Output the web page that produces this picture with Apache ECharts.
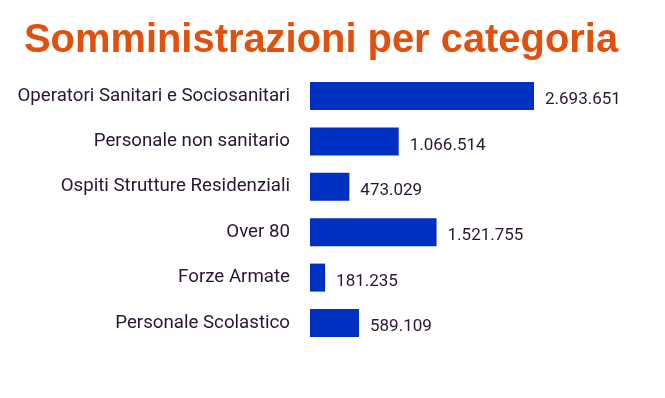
<!DOCTYPE html>
<html><head><meta charset="utf-8">
<script src="https://cdn.jsdelivr.net/npm/echarts@6/dist/echarts.min.js"></script>
<style>html,body{margin:0;padding:0;background:#fff}#c{width:665px;height:398px}</style>
</head><body><div id="c"></div>
<script>
const title = "Somministrazioni per categoria";
const categories = ["Operatori Sanitari e Sociosanitari","Personale non sanitario","Ospiti Strutture Residenziali","Over 80","Forze Armate","Personale Scolastico"];
const values = [2693651, 1066514, 473029, 1521755, 181235, 589109];

function fmt(v){ return String(v).replace(/\B(?=(\d{3})+(?!\d))/g, "."); }

const chart = echarts.init(document.getElementById('c'), null, {renderer:'canvas'});
chart.setOption({
  backgroundColor:'#ffffff',
  animation:false,
  title:{text:title,left:19,top:16,textStyle:{fontFamily:'Liberation Sans',fontWeight:'bold',fontSize:39.9,color:'#e0500f'}},
  grid:{left:310,top:73.3,width:249.5,height:272.4,containLabel:false},
  xAxis:{type:'value',min:0,max:3000000,show:false},
  yAxis:{type:'category',inverse:true,data:categories,
    axisLine:{show:false},axisTick:{show:false},splitLine:{show:false},
    axisLabel:{margin:20,fontFamily:'Roboto',fontSize:18.7,color:'#2a1535'}},
  series:[{type:'bar',data:values,barWidth:28,itemStyle:{color:'#0030c2'},
    label:{show:true,position:'right',distance:11,offset:[0,4],fontFamily:'Roboto',fontSize:17,color:'#2a1535',
      formatter:p=>fmt(p.value)}}]
});
</script></body></html>
